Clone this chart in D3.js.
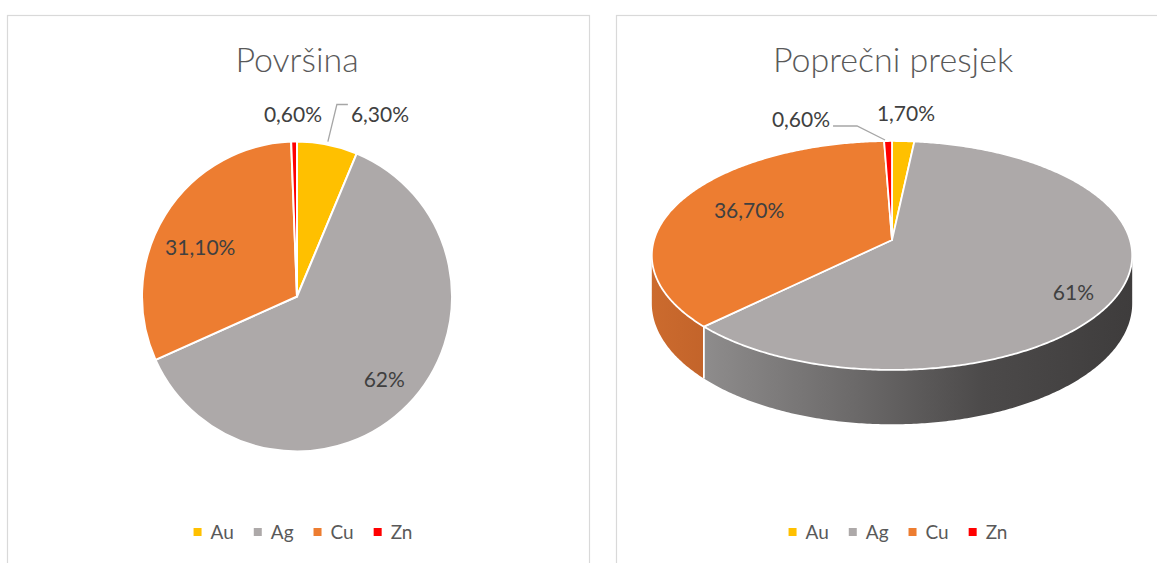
<!DOCTYPE html>
<html>
<head>
<meta charset="utf-8">
<script src="https://cdn.jsdelivr.net/npm/d3@7"></script>
<style>
  html, body { margin: 0; padding: 0; background: #fff; }
  svg { display: block; }
  text { font-family: Lato, "Open Sans", sans-serif; }
</style>
</head>
<body>
<svg id="chart" width="1157" height="563"></svg>
<script>
// ---- data ----
const categories = ["Au", "Ag", "Cu", "Zn"];
const colors = ["#FFC000", "#ADA9A9", "#ED7D31", "#FF0000"];
const povrsinaValues = [6.3, 62, 31.1, 0.6];
const povrsinaLabels = ["6,30%", "62%", "31,10%", "0,60%"];
const presjekValues = [1.7, 61, 36.7, 0.6];
const presjekLabels = ["1,70%", "61%", "36,70%", "0,60%"];
const titles = ["Površina", "Poprečni presjek"];

const svg = d3.select("#chart");
const defs = svg.append("defs");

// panels
svg.append("rect").attr("x", 7.5).attr("y", 15.5).attr("width", 582).attr("height", 600)
  .attr("fill", "#fff").attr("stroke", "#D9D9D9").attr("stroke-width", 1.2);
svg.append("rect").attr("x", 616.5).attr("y", 15.5).attr("width", 600).attr("height", 600)
  .attr("fill", "#fff").attr("stroke", "#D9D9D9").attr("stroke-width", 1.2);

const pie = d3.pie().sort(null).value(d => d);
const labelColor = "#404040";

function title(x, text) {
  svg.append("text").attr("x", x).attr("y", 72).attr("text-anchor", "middle")
    .attr("font-size", 34).attr("font-weight", 300).attr("fill", "#595959").text(text);
}

function legend(cx) {
  const g = svg.append("g");
  let x = 0;
  categories.forEach((c, i) => {
    g.append("rect").attr("x", x).attr("y", 528).attr("width", 8).attr("height", 8).attr("fill", colors[i]);
    const t = g.append("text").attr("x", x + 17).attr("y", 539).attr("font-size", 19)
      .attr("fill", "#595959").text(c);
    const w = t.node().getComputedTextLength();
    x += 17 + w + 20;
  });
  const total = x - 20;
  g.attr("transform", `translate(${cx - total / 2},0)`);
}

function label(x, y, text) {
  svg.append("text").attr("x", x).attr("y", y + 7).attr("text-anchor", "middle")
    .attr("font-size", 21).attr("fill", labelColor).text(text);
}

// ---------- Left pie (2D) ----------
{
  const cx = 297, cy = 296.5, r = 155;
  const arcs = pie(povrsinaValues);
  const arc = d3.arc().innerRadius(0).outerRadius(r);
  const g = svg.append("g").attr("transform", `translate(${cx},${cy})`);
  g.selectAll("path").data(arcs).join("path")
    .attr("d", arc).attr("fill", (d, i) => colors[i])
    .attr("stroke", "#fff").attr("stroke-width", 2).attr("stroke-linejoin", "round");

  title(cx, titles[0]);
  // inside labels
  const lab = d3.arc().innerRadius(r * 0.75).outerRadius(r * 0.75);
  const cAg = lab.centroid(arcs[1]);
  label(cx + cAg[0] + 4, cy + cAg[1] + 2, povrsinaLabels[1]);
  const cCu = lab.centroid(arcs[2]);
  label(cx + cCu[0] + 2, cy + cCu[1] + 13, povrsinaLabels[2]);
  // outside labels
  const aAu = (arcs[0].startAngle + arcs[0].endAngle) / 2;
  const p0 = [cx + Math.sin(aAu) * (r + 2), cy - Math.cos(aAu) * (r + 2)];
  svg.append("polyline")
    .attr("points", [[p0[0], p0[1] - 1], [p0[0] + 9, cy - r - 37], [p0[0] + 20, cy - r - 37]].map(p => p.join(",")).join(" "))
    .attr("fill", "none").attr("stroke", "#A6A6A6").attr("stroke-width", 1.3);
  label(cx + 83, cy - r - 27, povrsinaLabels[0]);
  label(cx - 4, cy - r - 27, povrsinaLabels[3]);
  legend(303);
}

// ---------- Right pie (3D, perspective) ----------
{
  const cx = 892, cy = 240, R = 238, ry = 112.4, p = 0.135, h = 47;
  const arcs = pie(presjekValues);
  const proj = (theta, depth) => {
    const u = Math.sin(theta), v = -Math.cos(theta);
    const w = 1 / (1 - p * v);
    return [cx + R * u * w, cy + (ry * v + depth) * w];
  };
  const samples = (a0, a1, depth) => {
    const n = Math.max(2, Math.ceil((a1 - a0) / 0.01));
    return d3.range(n + 1).map(k => proj(a0 + (a1 - a0) * k / n, depth));
  };
  const line = d3.line();

  // gradients for side
  const gAg = defs.append("linearGradient").attr("id", "sideAg")
    .attr("gradientUnits", "userSpaceOnUse").attr("x1", 700).attr("x2", 1135).attr("y1", 0).attr("y2", 0);
  [[0, "#8F8D8D"], [0.35, "#6C6A6A"], [0.65, "#4C4A4A"], [1, "#3E3C3C"]]
    .forEach(s => gAg.append("stop").attr("offset", s[0]).attr("stop-color", s[1]));
  const gCu = defs.append("linearGradient").attr("id", "sideCu")
    .attr("gradientUnits", "userSpaceOnUse").attr("x1", 650).attr("x2", 710).attr("y1", 0).attr("y2", 0);
  [[0, "#CC6B2E"], [1, "#C2632A"]]
    .forEach(s => gCu.append("stop").attr("offset", s[0]).attr("stop-color", s[1]));
  const sideFill = ["#C99A00", "url(#sideAg)", "url(#sideCu)", "#B00000"];

  // visible side range (silhouette tangent points)
  const tR = Math.PI - Math.acos(p);
  const tL = Math.PI + Math.acos(p);
  const sides = svg.append("g");
  arcs.forEach((d, i) => {
    const a0 = Math.max(d.startAngle, tR), a1 = Math.min(d.endAngle, tL);
    if (a1 <= a0) return;
    const top = samples(a0, a1, 0);
    const bot = samples(a0, a1, h).reverse();
    sides.append("path").attr("d", line(top.concat(bot)) + "Z")
      .attr("fill", sideFill[i]).attr("stroke", "none");
  });
  arcs.forEach(d => {
    const a = d.endAngle;
    if (a > tR && a < tL) {
      const t = proj(a, 0), b = proj(a, h);
      sides.append("line").attr("x1", t[0]).attr("y1", t[1]).attr("x2", b[0]).attr("y2", b[1])
        .attr("stroke", "#fff").attr("stroke-width", 1.8);
    }
  });

  // top faces
  const tops = svg.append("g");
  arcs.forEach((d, i) => {
    const pts = [[cx, cy]].concat(samples(d.startAngle, d.endAngle, 0));
    tops.append("path").attr("d", line(pts) + "Z").attr("fill", colors[i])
      .attr("stroke", "#fff").attr("stroke-width", 1.8).attr("stroke-linejoin", "round");
  });

  title(893, titles[1]);
  const mid = d => (d.startAngle + d.endAngle) / 2;
  const inside = (d, k) => {
    const a = mid(d), u = Math.sin(a), v = -Math.cos(a), w = 1 / (1 - p * v);
    return [cx + R * k * u * w, cy + ry * k * v * w];
  };
  const pAg = inside(arcs[1], 0.78);
  label(pAg[0] + 4, pAg[1] + 12, presjekLabels[1]);
  const pCu = inside(arcs[2], 0.66);
  label(pCu[0] - 4, pCu[1] - 3, presjekLabels[2]);
  // outside labels
  const z = proj(mid(arcs[3]), 0);
  svg.append("polyline")
    .attr("points", [[z[0] - 3, z[1] - 1], [z[0] - 31, z[1] - 15], [z[0] - 55, z[1] - 15]].map(q => q.join(",")).join(" "))
    .attr("fill", "none").attr("stroke", "#A6A6A6").attr("stroke-width", 1.3);
  label(801, z[1] - 21, presjekLabels[3]);
  const au = proj(mid(arcs[0]), 0);
  label(906, au[1] - 27, presjekLabels[0]);
  legend(898);
}
</script>
</body>
</html>
